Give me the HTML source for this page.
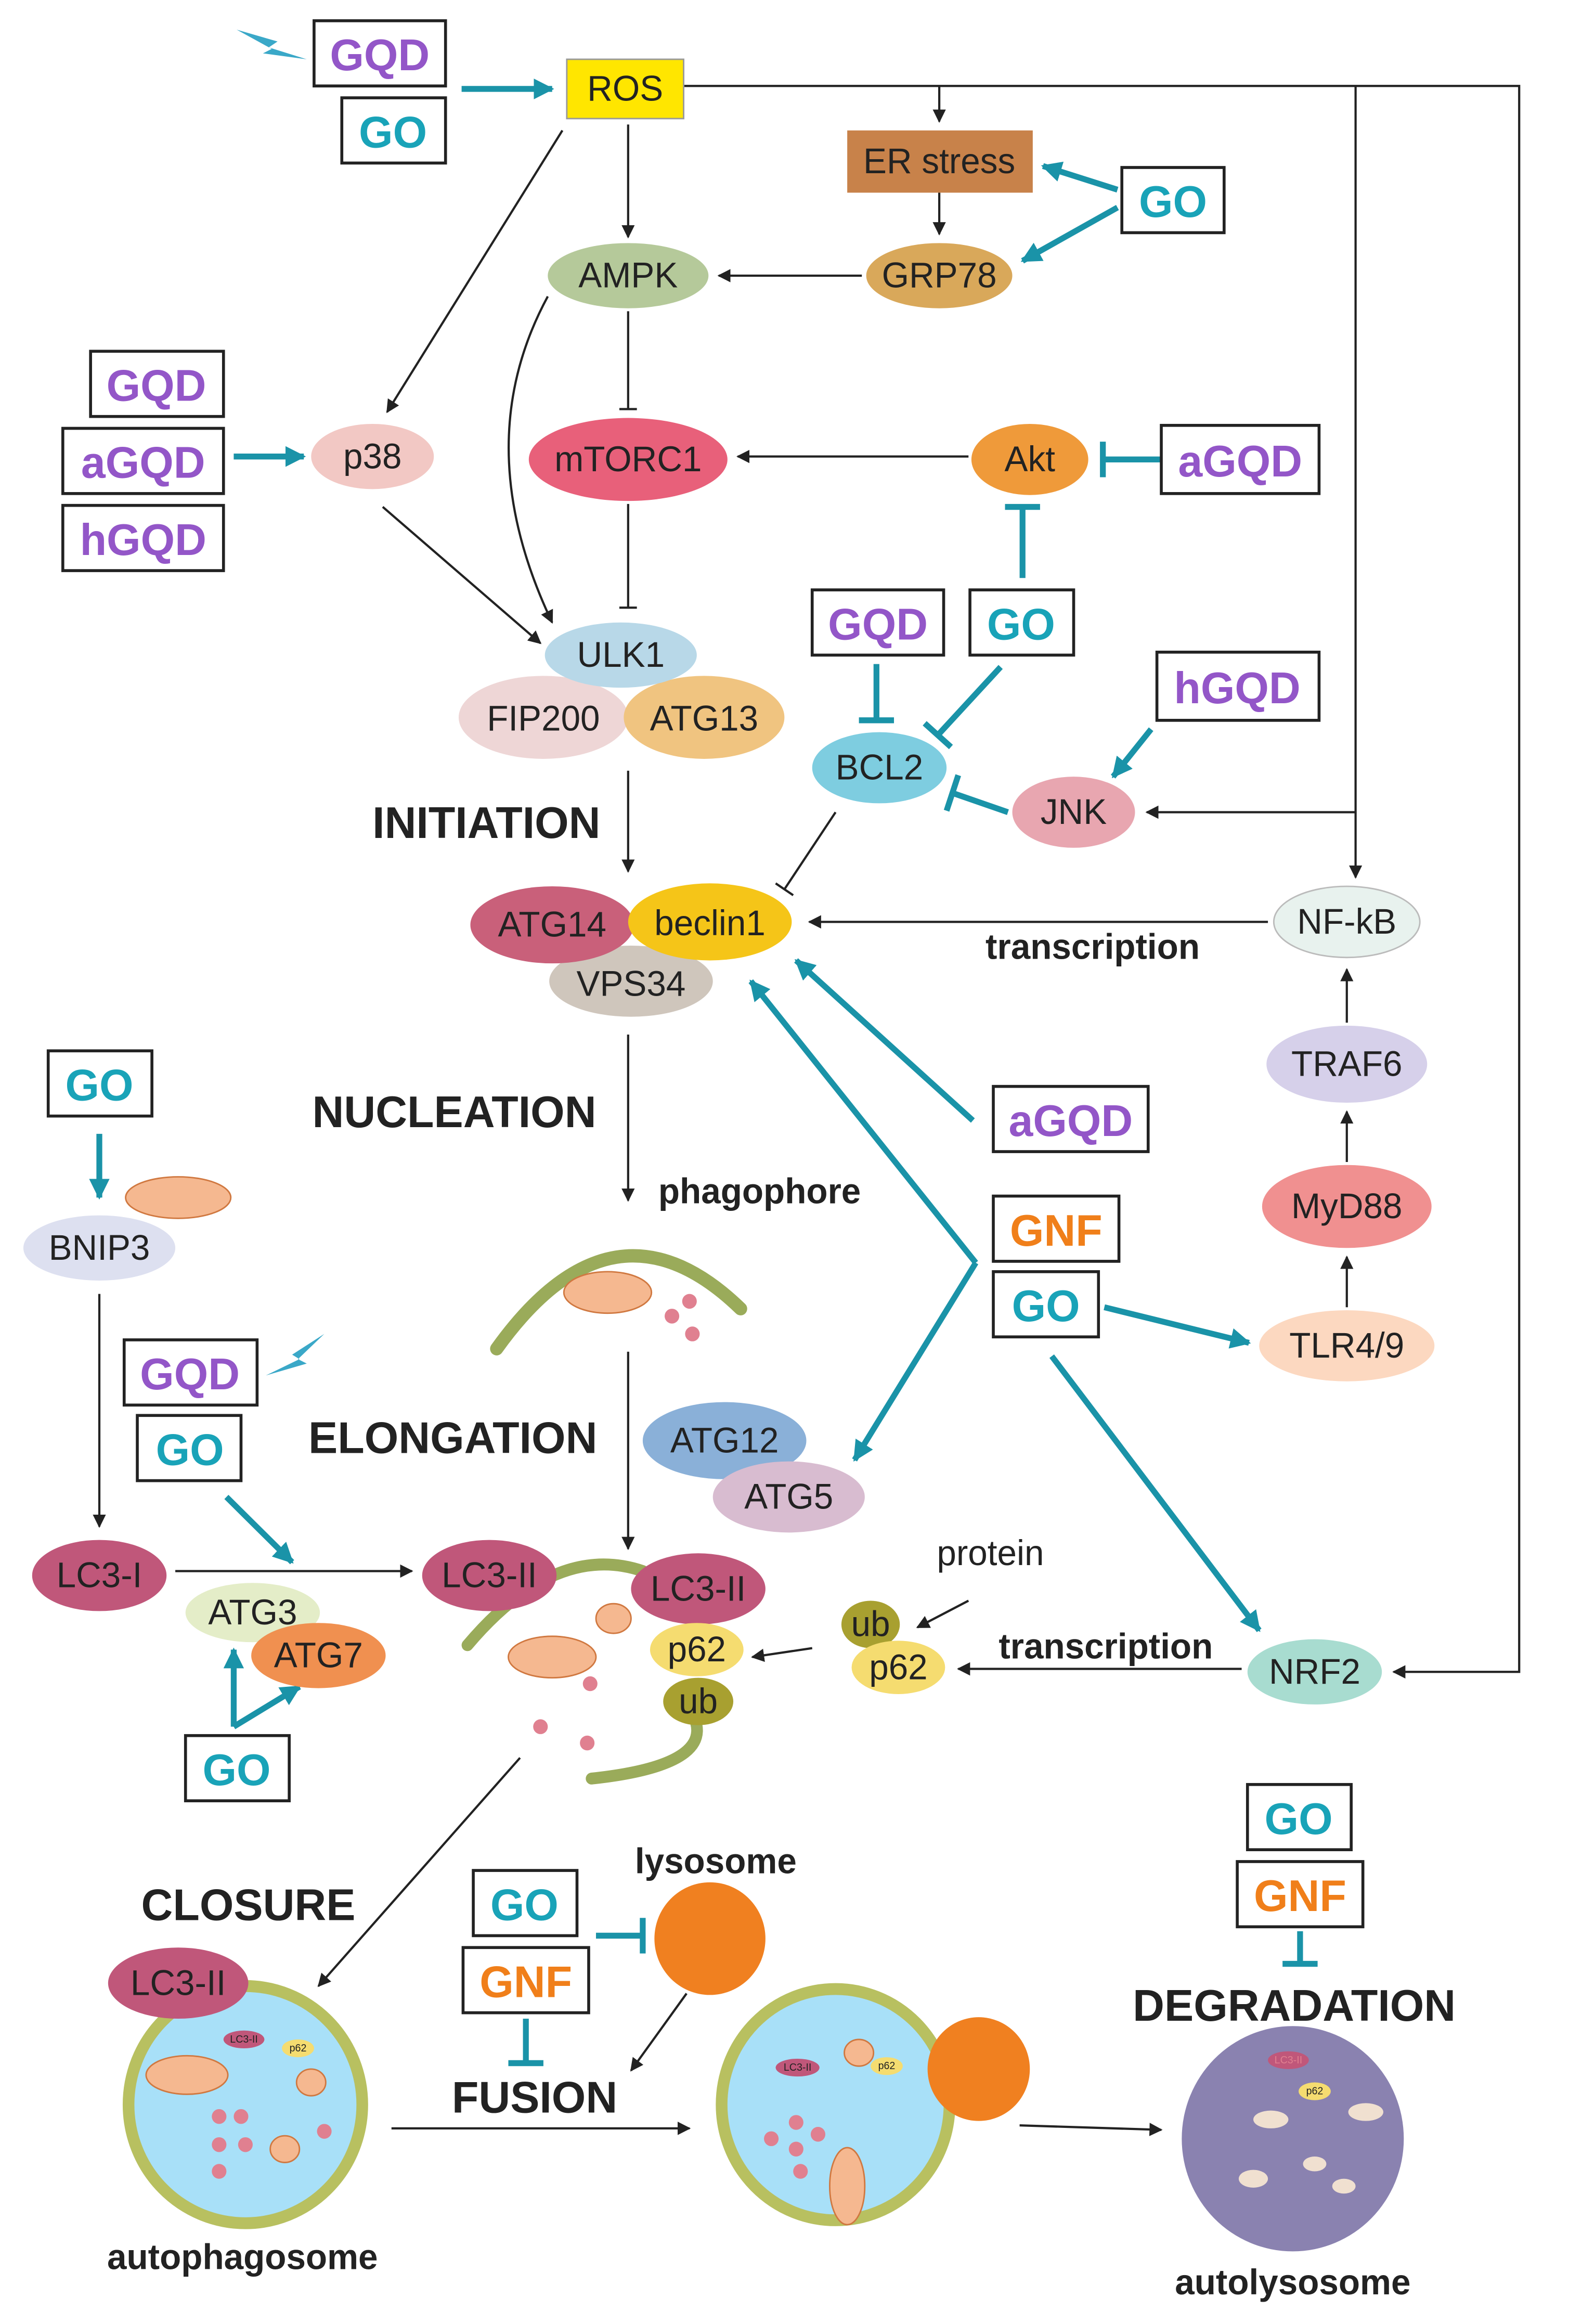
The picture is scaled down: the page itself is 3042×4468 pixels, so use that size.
<!DOCTYPE html>
<html><head><meta charset="utf-8"><style>html,body{margin:0;padding:0;background:#fff}svg{display:block}</style></head><body>
<svg width="3042" height="4468" viewBox="0 0 1083 1568" preserveAspectRatio="none" xmlns="http://www.w3.org/2000/svg" font-family="Liberation Sans, sans-serif">
<defs>
<marker id="a" viewBox="0 0 10 10" refX="9" refY="5" markerWidth="9" markerHeight="9" markerUnits="userSpaceOnUse" orient="auto"><path d="M0,0L10,5L0,10z" fill="#222"/></marker>
<marker id="t" viewBox="0 0 10 10" refX="9" refY="5" markerWidth="14" markerHeight="14" markerUnits="userSpaceOnUse" orient="auto"><path d="M0,0L10,5L0,10z" fill="#1a93a8"/></marker>
</defs>
<g stroke="#222" stroke-width="1.5" fill="none" marker-end="url(#a)">
<path d="M468,58H1040V1128H954"/>
<path d="M643,58V82"/><path d="M928,58V592"/>
<path d="M643,130V158"/><path d="M590,186H492"/><path d="M430,84V160"/>
<path d="M385,88L265,278"/><path d="M663,308H505"/>
<path d="M262,342L370,434"/><path d="M375,200Q320,300 378,420"/>
<path d="M430,520V588"/><path d="M928,548H785"/><path d="M868,622H554"/>
<path d="M922,690V654"/><path d="M922,784V750"/><path d="M922,882V848"/>
<path d="M430,698V810"/><path d="M430,912V1045"/><path d="M68,873V1030"/>
<path d="M120,1060H282"/><path d="M556,1112L515,1118"/><path d="M663,1080L628,1098"/>
<path d="M850,1126H656"/><path d="M470,1345L432,1397"/><path d="M356,1186L218,1340"/>
<path d="M268,1436H472"/><path d="M698,1434L795,1437"/>
</g>
<g stroke="#222" stroke-width="1.5" fill="none">
<path d="M430,210V276M424,276H436"/><path d="M430,340V410M424,410H436"/>
<path d="M572,548L537,600M531,596L543,604"/>
</g>
<g stroke="#1a93a8" stroke-width="4" fill="none">
<path d="M316,60H378" marker-end="url(#t)"/>
<path d="M765,128L714,112" marker-end="url(#t)"/><path d="M765,140L700,176" marker-end="url(#t)"/>
<path d="M160,308H208" marker-end="url(#t)"/>
<path d="M795,310H755M755,298V322"/>
<path d="M700,390V342M688,342H712"/>
<path d="M600,448V486M588,486H612"/>
<path d="M685,450L642,496M633,488L651,504"/>
<path d="M788,492L762,524" marker-end="url(#t)"/>
<path d="M690,548L652,535M656,523L648,547"/>
<path d="M666,756L545,648" marker-end="url(#t)"/>
<path d="M668,852L514,662" marker-end="url(#t)"/><path d="M668,852L585,985" marker-end="url(#t)"/>
<path d="M756,882L855,906" marker-end="url(#t)"/>
<path d="M720,915L862,1100" marker-end="url(#t)"/>
<path d="M68,765V808" marker-end="url(#t)"/>
<path d="M155,1010L200,1054" marker-end="url(#t)"/>
<path d="M160,1165V1113" marker-end="url(#t)"/><path d="M160,1165L205,1138" marker-end="url(#t)"/>
<path d="M408,1306H440M440,1294V1318"/>
<path d="M360,1362V1392M348,1392H372"/>
<path d="M890,1303V1325M878,1325H902"/>
</g>
<polygon points="162,20 190,28 184,32 210,40 180,36 186,33" fill="#3aa8c8"/>
<polygon points="222,900 200,914 205,917 182,928 210,920 204,917" fill="#3aa8c8"/>
<!-- structures -->
<path d="M340,910Q420,800 507,883" stroke="#9aab5a" stroke-width="9" fill="none" stroke-linecap="round"/>
<path d="M320,1110Q380,1040 440,1060M470,1150Q500,1190 405,1200" stroke="#9aab5a" stroke-width="8" fill="none" stroke-linecap="round"/>
<circle cx="168" cy="1420" r="80" fill="#a8e0f8" stroke="#b8c060" stroke-width="8"/>
<circle cx="572" cy="1420" r="78" fill="#a8e0f8" stroke="#b8c060" stroke-width="8"/>
<circle cx="885" cy="1443" r="76" fill="#8a82b0"/>
<circle cx="486" cy="1308" r="38" fill="#f08020"/>
<circle cx="670" cy="1396" r="35" fill="#f08020"/>
<g fill="#f5b890" stroke="#d07840" stroke-width="1">
<ellipse cx="122" cy="808" rx="36" ry="14"/><ellipse cx="416" cy="872" rx="30" ry="14"/>
<ellipse cx="378" cy="1118" rx="30" ry="14"/><ellipse cx="420" cy="1092" rx="12" ry="10"/>
<ellipse cx="128" cy="1400" rx="28" ry="13"/><ellipse cx="213" cy="1405" rx="10" ry="9"/><ellipse cx="195" cy="1450" rx="10" ry="9"/>
<ellipse cx="588" cy="1385" rx="10" ry="9"/><ellipse cx="580" cy="1475" rx="12" ry="26"/>
</g>
<g fill="#e08090"><circle cx="472" cy="878" r="5"/><circle cx="460" cy="888" r="5"/><circle cx="474" cy="900" r="5"/>
<circle cx="404" cy="1136" r="5"/><circle cx="370" cy="1165" r="5"/><circle cx="402" cy="1176" r="5"/>
<circle cx="150" cy="1428" r="5"/><circle cx="165" cy="1428" r="5"/><circle cx="150" cy="1447" r="5"/><circle cx="168" cy="1447" r="5"/><circle cx="150" cy="1465" r="5"/><circle cx="222" cy="1438" r="5"/>
<circle cx="528" cy="1443" r="5"/><circle cx="545" cy="1432" r="5"/><circle cx="545" cy="1450" r="5"/><circle cx="560" cy="1440" r="5"/><circle cx="548" cy="1465" r="5"/></g>
<g fill="#f0e0d0"><ellipse cx="870" cy="1430" rx="12" ry="6"/><ellipse cx="935" cy="1425" rx="12" ry="6"/><ellipse cx="858" cy="1470" rx="10" ry="6"/><ellipse cx="900" cy="1460" rx="8" ry="5"/><ellipse cx="920" cy="1475" rx="8" ry="5"/></g>
<!-- nodes -->
<rect x="388" y="40" width="80" height="40" fill="#ffe600" stroke="#999"/>
<rect x="580" y="88" width="127" height="42" fill="#c8824a"/>
<g stroke="none">
<ellipse cx="643" cy="186" rx="50" ry="22" fill="#d9a85a"/>
<ellipse cx="430" cy="186" rx="55" ry="22" fill="#b5c99a"/>
<ellipse cx="255" cy="308" rx="42" ry="22" fill="#f2c8c4"/>
<ellipse cx="430" cy="310" rx="68" ry="28" fill="#e8607a"/>
<ellipse cx="705" cy="310" rx="40" ry="24" fill="#ef9a3a"/>
<ellipse cx="372" cy="484" rx="58" ry="28" fill="#eed6d6"/>
<ellipse cx="482" cy="484" rx="55" ry="28" fill="#f0c480"/>
<ellipse cx="425" cy="442" rx="52" ry="22" fill="#b8d8e8"/>
<ellipse cx="602" cy="518" rx="46" ry="24" fill="#7ecde0"/>
<ellipse cx="735" cy="548" rx="42" ry="24" fill="#e8a6b0"/>
<ellipse cx="432" cy="662" rx="56" ry="24" fill="#cfc6bc"/>
<ellipse cx="378" cy="624" rx="56" ry="26" fill="#c9607a"/>
<ellipse cx="486" cy="622" rx="56" ry="26" fill="#f5c518"/>
<ellipse cx="922" cy="622" rx="50" ry="24" fill="#e8f2ee" stroke="#bbb"/>
<ellipse cx="922" cy="718" rx="55" ry="26" fill="#d6d0ea"/>
<ellipse cx="922" cy="814" rx="58" ry="28" fill="#f09090"/>
<ellipse cx="922" cy="908" rx="60" ry="24" fill="#fcd8c0"/>
<ellipse cx="68" cy="842" rx="52" ry="22" fill="#dde0f0"/>
<ellipse cx="496" cy="972" rx="56" ry="26" fill="#8ab0d8"/>
<ellipse cx="540" cy="1010" rx="52" ry="24" fill="#d8bcd0"/>
<ellipse cx="68" cy="1063" rx="46" ry="24" fill="#c0577a"/>
<ellipse cx="335" cy="1063" rx="46" ry="24" fill="#c0577a"/>
<ellipse cx="478" cy="1072" rx="46" ry="24" fill="#c0577a"/>
<ellipse cx="173" cy="1088" rx="46" ry="20" fill="#e4edc8"/>
<ellipse cx="218" cy="1117" rx="46" ry="22" fill="#f09050"/>
<ellipse cx="477" cy="1113" rx="32" ry="18" fill="#f5dc70"/>
<ellipse cx="478" cy="1148" rx="24" ry="16" fill="#a8a030"/>
<ellipse cx="596" cy="1096" rx="20" ry="16" fill="#a8a030"/>
<ellipse cx="615" cy="1125" rx="32" ry="18" fill="#f5dc70"/>
<ellipse cx="900" cy="1128" rx="46" ry="22" fill="#a8dcd0"/>
<ellipse cx="122" cy="1338" rx="48" ry="24" fill="#c0577a"/>
<ellipse cx="167" cy="1376" rx="14" ry="6" fill="#c0577a"/><ellipse cx="204" cy="1382" rx="11" ry="6" fill="#f5dc70"/>
<ellipse cx="546" cy="1395" rx="15" ry="6" fill="#c0577a"/><ellipse cx="607" cy="1394" rx="11" ry="6" fill="#f5dc70"/>
<ellipse cx="882" cy="1390" rx="14" ry="6" fill="#c0577a"/><ellipse cx="900" cy="1411" rx="11" ry="6" fill="#f5dc70"/>
</g>
<g font-size="24" fill="#222" text-anchor="middle" dominant-baseline="central">
<text x="428" y="60">ROS</text><text x="643" y="109">ER stress</text><text x="643" y="186">GRP78</text>
<text x="430" y="186">AMPK</text><text x="255" y="308">p38</text><text x="430" y="310">mTORC1</text>
<text x="705" y="310">Akt</text><text x="425" y="442">ULK1</text><text x="372" y="485">FIP200</text>
<text x="482" y="485">ATG13</text><text x="602" y="518">BCL2</text><text x="735" y="548">JNK</text>
<text x="378" y="624">ATG14</text><text x="486" y="623">beclin1</text><text x="432" y="664">VPS34</text>
<text x="922" y="622">NF-kB</text><text x="922" y="718">TRAF6</text><text x="922" y="814">MyD88</text>
<text x="922" y="908">TLR4/9</text><text x="68" y="842">BNIP3</text><text x="496" y="972">ATG12</text>
<text x="540" y="1010">ATG5</text><text x="68" y="1063">LC3-I</text><text x="335" y="1063">LC3-II</text>
<text x="478" y="1072">LC3-II</text><text x="173" y="1088">ATG3</text><text x="218" y="1117">ATG7</text>
<text x="477" y="1113">p62</text><text x="478" y="1148">ub</text><text x="596" y="1096">ub</text>
<text x="615" y="1125">p62</text><text x="900" y="1128">NRF2</text><text x="122" y="1338">LC3-II</text>
<text x="678" y="1048">protein</text>
</g>
<g font-size="7" text-anchor="middle" dominant-baseline="central" fill="#222"><text x="167" y="1376">LC3-II</text><text x="204" y="1382">p62</text><text x="546" y="1395">LC3-II</text><text x="607" y="1394">p62</text><text x="882" y="1390" fill="#e08090">LC3-II</text><text x="900" y="1411">p62</text></g>
<g font-weight="bold" fill="#222" text-anchor="middle" dominant-baseline="central">
<g font-size="30"><text x="333" y="555">INITIATION</text><text x="311" y="750">NUCLEATION</text><text x="310" y="970">ELONGATION</text>
<text x="170" y="1285">CLOSURE</text><text x="366" y="1415">FUSION</text><text x="886" y="1353">DEGRADATION</text></g>
<g font-size="24"><text x="520" y="804">phagophore</text><text x="490" y="1256">lysosome</text><text x="166" y="1523">autophagosome</text>
<text x="885" y="1540">autolysosome</text><text x="748" y="639">transcription</text><text x="757" y="1111">transcription</text></g>
</g>
<g fill="#fff" stroke="#222" stroke-width="2">
<rect x="215" y="14" width="90" height="44"/><rect x="234" y="66" width="71" height="44"/>
<rect x="768" y="113" width="70" height="44"/><rect x="62" y="237" width="91" height="44"/>
<rect x="43" y="289" width="110" height="44"/><rect x="43" y="341" width="110" height="44"/>
<rect x="795" y="287" width="108" height="46"/><rect x="556" y="398" width="90" height="44"/>
<rect x="664" y="398" width="71" height="44"/><rect x="792" y="440" width="111" height="46"/>
<rect x="680" y="733" width="106" height="44"/><rect x="680" y="807" width="86" height="44"/>
<rect x="680" y="858" width="72" height="44"/><rect x="33" y="709" width="71" height="44"/>
<rect x="85" y="904" width="91" height="44"/><rect x="94" y="955" width="71" height="44"/>
<rect x="127" y="1171" width="71" height="44"/><rect x="324" y="1262" width="71" height="44"/>
<rect x="317" y="1314" width="86" height="44"/><rect x="854" y="1204" width="71" height="44"/>
<rect x="847" y="1256" width="86" height="44"/>
</g>
<g font-size="30" font-weight="bold" text-anchor="middle" dominant-baseline="central">
<g fill="#9356c8"><text x="260" y="37">GQD</text><text x="107" y="260">GQD</text><text x="98" y="312">aGQD</text>
<text x="98" y="364">hGQD</text><text x="849" y="311">aGQD</text><text x="601" y="421">GQD</text>
<text x="847" y="464">hGQD</text><text x="733" y="756">aGQD</text><text x="130" y="927">GQD</text></g>
<g fill="#19a3b8"><text x="269" y="89">GO</text><text x="803" y="136">GO</text><text x="699" y="421">GO</text>
<text x="716" y="881">GO</text><text x="68" y="732">GO</text><text x="130" y="978">GO</text>
<text x="162" y="1194">GO</text><text x="359" y="1285">GO</text><text x="889" y="1227">GO</text></g>
<g fill="#f07f1a"><text x="723" y="830">GNF</text><text x="360" y="1337">GNF</text><text x="890" y="1279">GNF</text></g>
</g>
</svg>
</body></html>
